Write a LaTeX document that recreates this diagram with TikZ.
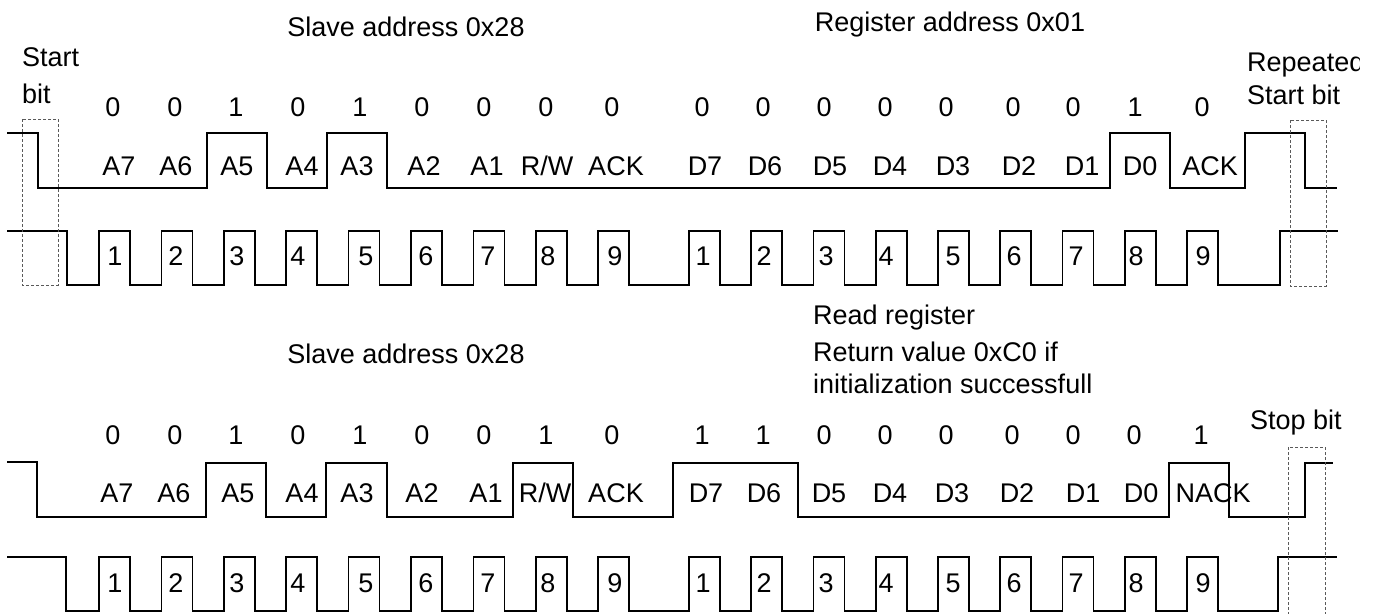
\documentclass[tikz,border=0pt]{standalone}
\usepackage{fontspec}
\setmainfont{Liberation Sans}
\begin{document}
\begin{tikzpicture}[x=1pt,y=-1pt,
  wave/.style={line width=1.7pt, line join=miter, black},
  dbox/.style={draw=black!65, line width=0.8pt, dash pattern=on 3pt off 2pt},
  lbl/.style={font=\fontsize{27}{31}\selectfont, inner sep=0pt, anchor=base},
  lblw/.style={lbl, anchor=base west}]
\useasboundingbox (0,0) rectangle (1381,613);
\clip (0,0) rectangle (1381,613);

% ---------- top frame ----------
% SDA
\draw[wave] (7,133) -- (38,133) -- (38,188) -- (207,188) -- (207,133) -- (267,133) -- (267,188)
  -- (327,188) -- (327,133) -- (387,133) -- (387,188) -- (1110,188) -- (1110,133) -- (1170,133)
  -- (1170,188) -- (1245,188) -- (1245,133) -- (1305,133) -- (1305,188) -- (1337,188);
% SCL
\draw[wave] (7,231) -- (67,231) -- (67,285)
  \foreach \k in {0,...,8}{ -- ({99+62.4*\k},285) -- ({99+62.4*\k},231) -- ({130+62.4*\k},231) -- ({130+62.4*\k},285) }
  \foreach \k in {0,...,8}{ -- ({689+62.25*\k},285) -- ({689+62.25*\k},231) -- ({720+62.25*\k},231) -- ({720+62.25*\k},285) }
  -- (1280,285) -- (1280,231) -- (1338,231);
\draw[dbox] (22,119) rectangle (58,285);
\draw[dbox] (1290,120) rectangle (1326,286);

% ---------- bottom frame ----------
\draw[wave] (7,462) -- (37,462) -- (37,517) -- (206,517) -- (206,463) -- (266,463) -- (266,517)
  -- (326,517) -- (326,463) -- (387,463) -- (387,517) -- (513,517) -- (513,463) -- (573,463)
  -- (573,517) -- (673,517) -- (673,463) -- (798,463) -- (798,517) -- (1169,517) -- (1169,463)
  -- (1229,463) -- (1229,517) -- (1305,517) -- (1305,463) -- (1333,463);
\draw[wave] (7,557) -- (66,557) -- (66,611)
  \foreach \k in {0,...,8}{ -- ({99+62.4*\k},611) -- ({99+62.4*\k},557) -- ({130+62.4*\k},557) -- ({130+62.4*\k},611) }
  \foreach \k in {0,...,8}{ -- ({689+62.25*\k},611) -- ({689+62.25*\k},557) -- ({720+62.25*\k},557) -- ({720+62.25*\k},611) }
  -- (1278,611) -- (1278,557) -- (1337,557);
\draw[dbox] (1288,447) rectangle (1325,625);

% ---------- texts ----------
\node[lbl] (title1) at (406,36) {Slave address 0x28};
\node[lbl] (title2) at (950,31) {Register address 0x01};
\node[lblw] (start1) at (22,66) {Start};
\node[lblw] (start2) at (22,103) {bit};
\begin{scope}
  \clip (1200,30) rectangle (1359,80);
  \node[lblw] (rep1) at (1247,71) {Repeated};
\end{scope}
\node[lblw] (rep2) at (1247,104) {Start bit};
\node[lblw] (read1) at (813,324) {Read register};
\node[lblw] (read2) at (813,361) {Return value 0xC0 if};
\node[lblw] (read3) at (813,393) {initialization successfull};
\node[lbl] (title3) at (406,363) {Slave address 0x28};
\node[lblw] (stop) at (1250,429) {Stop bit};

\foreach \x/\t [count=\i] in {113/0,175/0,236/1,298/0,360/1,422/0,484/0,546/0,612/0,702/0,763/0,824/0,885/0,946/0,1013/0,1073/0,1135/1,1202/0}
  \node[lbl] (tv\i) at (\x,116) {\t};
\foreach \x/\t [count=\i] in {119/A7,176/A6,237/A5,302/A4,357/A3,424/A2,487/A1,547/{R/W},616/ACK,705/D7,765/D6,830/D5,890/D4,953/D3,1019/D2,1082/D1,1140/D0,1210/ACK}
  \node[lbl] (tl\i) at (\x,175) {\t};
\foreach \x/\t [count=\i] in {115/1,176/2,237/3,298/4,366/5,426/6,488/7,548/8,615/9,703/1,764/2,826/3,886/4,953/5,1014/6,1076/7,1136/8,1203/9}
  \node[lbl] (tn\i) at (\x,265) {\t};

\foreach \x/\t [count=\i] in {113/0,175/0,236/1,298/0,360/1,422/0,484/0,546/1,612/0,702/1,763/1,824/0,885/0,946/0,1012/0,1073/0,1134/0,1201/1}
  \node[lbl] (bv\i) at (\x,444) {\t};
\foreach \x/\t [count=\i] in {117/A7,174/A6,238/A5,302/A4,357/A3,422/A2,486/A1,545/{R/W},616/ACK,706/D7,764/D6,829/D5,890/D4,952/D3,1017/D2,1083/D1,1141/D0,1213/NACK}
  \node[lbl] (bl\i) at (\x,502) {\t};
\foreach \x/\t [count=\i] in {115/1,176/2,237/3,298/4,366/5,426/6,488/7,548/8,615/9,703/1,764/2,826/3,886/4,953/5,1014/6,1076/7,1136/8,1203/9}
  \node[lbl] (bn\i) at (\x,592) {\t};
\end{tikzpicture}
\end{document}
